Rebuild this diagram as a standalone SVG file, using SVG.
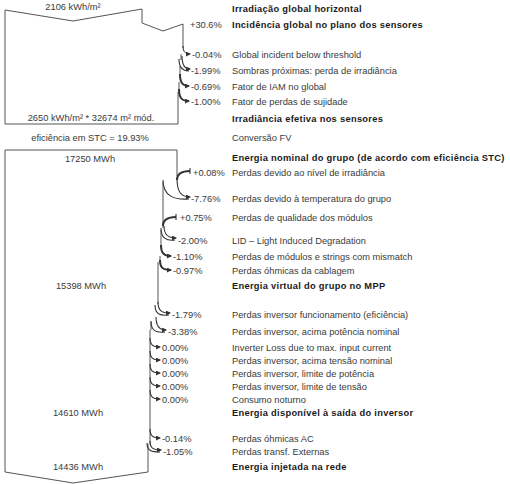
<svg xmlns="http://www.w3.org/2000/svg" width="510" height="484" viewBox="0 0 510 484">
<style>
  .t { font-family: "Liberation Sans", Arial, sans-serif; font-size: 9.3px; fill: #3a3a3a; }
  .b { font-family: "Liberation Sans", Arial, sans-serif; font-size: 9.3px; font-weight: bold; fill: #1a1a1a; letter-spacing: 0.3px; }
  .c { text-anchor: middle; }
  .edge { fill: none; stroke: #555; stroke-width: 1; }
  .l { fill: none; stroke: #333; stroke-width: 1.1; }
  .lt { fill: none; stroke: #333; stroke-width: 2; }
</style>
<defs>
  <marker id="ah" markerUnits="userSpaceOnUse" markerWidth="5" markerHeight="5" refX="4" refY="2.5" orient="auto">
    <path d="M0,0 L5,2.5 L0,5 z" fill="#333"/>
  </marker>
</defs>
<rect width="510" height="484" fill="#fff"/>

<g id="block1">
  <path class="edge" d="M5,124 L5,10 L73,21 L142,9 L142,23 L163,31 L183,24 L183,48 M181,54 L181,60 M180,66 L180,76 M179,82 L179,92 M178,92 L178,124 L5,124"/>
  <text class="t c" x="73" y="9.5">2106 kWh/m²</text>
  <text class="t c" x="91" y="120.5">2650 kWh/m² * 32674 m² mód.</text>
</g>
<text class="t c" x="90" y="140.5">eficiência em STC = 19.93%</text>

<g id="block2">
  <path class="edge" d="M177,176 L177,150 L5,150 L5,472 L73,483 L148,472 L148,444"/>
  <path class="edge" d="M163,182 L163,228 M161,230 L161,246 M160,256 L160,262 M158,262 L158,304 M151,322 L151,330 M150,330 L150,444"/>
  <text class="t c" x="90" y="161.5">17250 MWh</text>
  <text class="t c" x="81" y="288.5">15398 MWh</text>
  <text class="t c" x="78" y="415.5">14610 MWh</text>
  <text class="t c" x="78" y="469.5">14436 MWh</text>
</g>

<g id="connectors">
  <!-- block 1 -->
  <path class="l" d="M183,46 C183,52 185,54 190,54" marker-end="url(#ah)"/>
  <path class="l" d="M182,56 C182,65 185,69 190,69" marker-end="url(#ah)"/>
  <path class="l" d="M179,59 C179,68 183,71 189,71"/>
  <path class="lt" d="M180,74 C180,82 182,86 189,86" marker-end="url(#ah)"/>
  <path class="lt" d="M179,89 C179,97 181,101 189,101" marker-end="url(#ah)"/>
  <!-- block 2 -->
  <path class="l" d="M190,168 L190,174"/>
  <path class="lt" d="M190,171 C182,171 177,173 177,180"/>
  <path class="l" d="M177,178 C177,192 181,197 190,197" marker-end="url(#ah)"/>
  <path class="l" d="M163,180 C163,196 174,200 189,199"/>
  <path class="l" d="M176,214 L176,220"/>
  <path class="lt" d="M176,217 C168,217 163,219 163,226"/>
  <path class="l" d="M164,226 C164,235 168,238 176,238" marker-end="url(#ah)"/>
  <path class="l" d="M161,228 C161,238 166,241 175,240"/>
  <path class="lt" d="M161,245 C161,252 163,256 171,256" marker-end="url(#ah)"/>
  <path class="lt" d="M160,260 C160,267 162,270 171,270" marker-end="url(#ah)"/>
  <path class="l" d="M158,302 C158,311 162,313 170,313" marker-end="url(#ah)"/>
  <path class="l" d="M155,305 C155,314 160,316 169,315"/>
  <path class="l" d="M156,317 C156,327 160,330 166,330" marker-end="url(#ah)"/>
  <path class="l" d="M151,321 C151,331 156,333 165,332"/>
  <path class="l" d="M150,338 C150,345 153,347 160,347" marker-end="url(#ah)"/>
  <path class="l" d="M150,351 C150,358 153,360 160,360" marker-end="url(#ah)"/>
  <path class="l" d="M150,364 C150,371 153,373 160,373" marker-end="url(#ah)"/>
  <path class="l" d="M150,377 C150,384 153,386 160,386" marker-end="url(#ah)"/>
  <path class="l" d="M150,390 C150,397 153,399 160,399" marker-end="url(#ah)"/>
  <path class="l" d="M150,429 C150,436 153,438 160,438" marker-end="url(#ah)"/>
  <path class="l" d="M150,441 C150,448 153,450 161,450" marker-end="url(#ah)"/>
  <path class="l" d="M147,443 C147,451 152,452 160,452"/>
</g>

<g id="labels">
  <text class="b" x="232" y="11.5">Irradiação global horizontal</text>
  <text class="t" x="190" y="27.5">+30.6%</text>
  <text class="b" x="232" y="27.5">Incidência global no plano dos sensores</text>
  <text class="t" x="192" y="57.5">-0.04%</text>
  <text class="t" x="232" y="57.5">Global incident below threshold</text>
  <text class="t" x="191" y="73.5">-1.99%</text>
  <text class="t" x="232" y="73.5">Sombras próximas: perda de irradiância</text>
  <text class="t" x="191" y="89.5">-0.69%</text>
  <text class="t" x="232" y="89.5">Fator de IAM no global</text>
  <text class="t" x="191" y="104.5">-1.00%</text>
  <text class="t" x="232" y="104.5">Fator de perdas de sujidade</text>
  <text class="b" x="232" y="121.5">Irradiância efetiva nos sensores</text>
  <text class="t" x="232" y="140.5">Conversão FV</text>
  <text class="b" x="232" y="160.5">Energia nominal do grupo (de acordo com eficiência STC)</text>
  <text class="t" x="193" y="175.5">+0.08%</text>
  <text class="t" x="232" y="175.5">Perdas devido ao nível de irradiância</text>
  <text class="t" x="191" y="201.5">-7.76%</text>
  <text class="t" x="232" y="201.5">Perdas devido à temperatura do grupo</text>
  <text class="t" x="180" y="220.5">+0.75%</text>
  <text class="t" x="232" y="220.5">Perdas de qualidade dos módulos</text>
  <text class="t" x="178" y="243.5">-2.00%</text>
  <text class="t" x="232" y="243.5">LID – Light Induced Degradation</text>
  <text class="t" x="173" y="259.5">-1.10%</text>
  <text class="t" x="232" y="259.5">Perdas de módulos e strings com mismatch</text>
  <text class="t" x="173" y="273.5">-0.97%</text>
  <text class="t" x="232" y="273.5">Perdas óhmicas da cablagem</text>
  <text class="b" x="232" y="288.5">Energia virtual do grupo no MPP</text>
  <text class="t" x="172" y="317.5">-1.79%</text>
  <text class="t" x="232" y="317.5">Perdas inversor funcionamento (eficiência)</text>
  <text class="t" x="168" y="334.5">-3.38%</text>
  <text class="t" x="232" y="334.5">Perdas inversor, acima potência nominal</text>
  <text class="t" x="162" y="350.5">0.00%</text>
  <text class="t" x="232" y="350.5">Inverter Loss due to max. input current</text>
  <text class="t" x="162" y="363.5">0.00%</text>
  <text class="t" x="232" y="363.5">Perdas inversor, acima tensão nominal</text>
  <text class="t" x="162" y="376.5">0.00%</text>
  <text class="t" x="232" y="376.5">Perdas inversor, limite de potência</text>
  <text class="t" x="162" y="389.5">0.00%</text>
  <text class="t" x="232" y="389.5">Perdas inversor, limite de tensão</text>
  <text class="t" x="162" y="402.5">0.00%</text>
  <text class="t" x="232" y="402.5">Consumo noturno</text>
  <text class="b" x="232" y="415.5">Energia disponível à saída do inversor</text>
  <text class="t" x="162" y="441.5">-0.14%</text>
  <text class="t" x="232" y="441.5">Perdas óhmicas AC</text>
  <text class="t" x="163" y="454.5">-1.05%</text>
  <text class="t" x="232" y="454.5">Perdas transf. Externas</text>
  <text class="b" x="232" y="469.5">Energia injetada na rede</text>
</g>
</svg>
